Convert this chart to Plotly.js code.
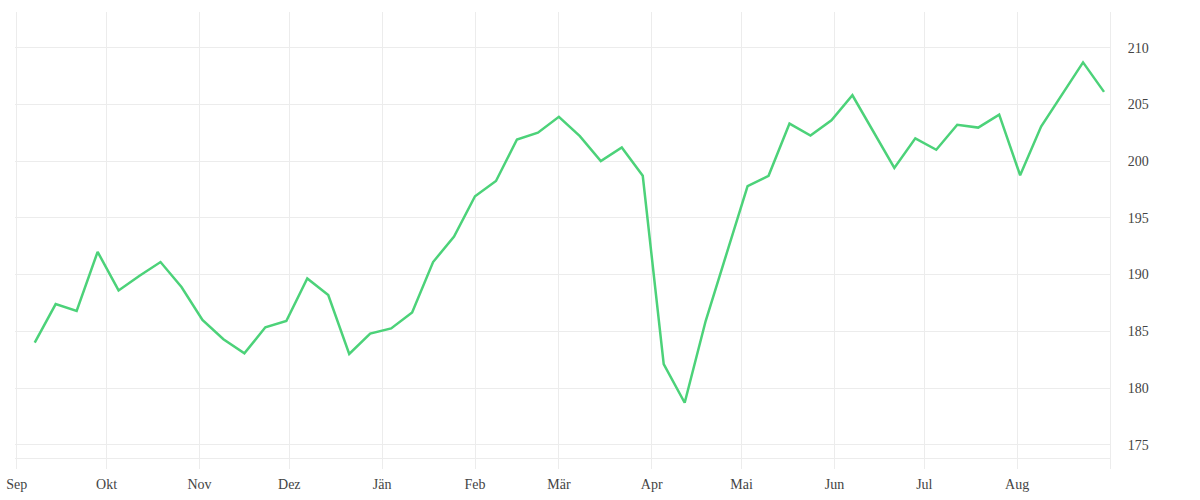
<!DOCTYPE html>
<html>
<head>
<meta charset="utf-8">
<script src="https://cdn.plot.ly/plotly-3.0.1.min.js"></script>
<style>
  html, body {margin:0; padding:0; background:#fff;}
  #chart {width:1200px; height:500px;}
</style>
</head>
<body>
<div id="chart"></div>
<script>
// weekly values, first point 2018-09-07
let start_day = '2018-09-07';
let kurs = [
    184.0, 187.4, 186.8, 192.0, 188.6, 189.9, 191.1, 188.9, 186.0, 184.3,
    183.05, 185.35, 185.9, 189.65, 188.2, 183.0, 184.8, 185.25, 186.65, 191.1,
    193.35, 196.9, 198.25, 201.9, 202.5, 203.9, 202.2, 200.0, 201.2, 198.7,
    182.1, 178.7, 185.9, 191.8, 197.8, 198.7, 203.3, 202.25, 203.6, 205.8,
    202.6, 199.4, 202.0, 201.0, 203.2, 202.95, 204.1, 198.75, 203.05, 205.9,
    208.7, 206.1
];
// month ticks (last one = next september, no label)
let monat_vals = [
    '2018-09-01','2018-10-01','2018-11-01','2018-12-01','2019-01-01','2019-02-01',
    '2019-03-01','2019-04-01','2019-05-01','2019-06-01','2019-07-01','2019-08-01','2019-09-01'
];
let monat_text = ['Sep','Okt','Nov','Dez','Jän','Feb','Mär','Apr','Mai','Jun','Jul','Aug',''];
let y_ticks = [175, 180, 185, 190, 195, 200, 205, 210];

function weekly_dates(first, n){
    let out = [];
    let d0 = new Date(first + 'T00:00:00Z');
    for(let i=0; i<n; i++){
        let d = new Date(d0.getTime() + i*7*86400000);
        out.push(d.toISOString().slice(0,10));
    }
    return out;
}

function draw_chart(container){
    let grid_col = '#ececec';
    let traces = [{
        x: weekly_dates(start_day, kurs.length),
        y: kurs,
        type: 'scatter',
        mode: 'lines',
        line: {color:'#4cd279', width:2.5},
        hoverinfo: 'x+y'
    }];

    let layout = {
        width: 1200,
        height: 500,
        showlegend: false,
        paper_bgcolor: '#fff',
        plot_bgcolor: '#fff',
        font: {family:'"Liberation Serif", serif', size:14, color:'#444'},
        margin: {l:15, r:90, t:12, b:42, pad:0},
        xaxis: {
            type: 'date',
            range: ['2018-08-31 10:00', '2019-09-01'],
            tickmode: 'array',
            tickvals: monat_vals,
            ticktext: monat_text,
            showgrid: true,
            gridcolor: grid_col,
            ticks: 'outside',
            ticklen: 10,
            tickcolor: grid_col,
            ticklabelstandoff: 3,
            showline: true,
            linecolor: grid_col,
            zeroline: false
        },
        yaxis: {
            side: 'right',
            range: [173.83, 213.14],
            tickmode: 'array',
            tickvals: y_ticks,
            showgrid: true,
            gridcolor: grid_col,
            showline: true,
            linecolor: grid_col,
            ticks: '',
            ticklabelstandoff: 14,
            zeroline: false
        }
    };

    Plotly.newPlot(container, traces, layout, {displayModeBar:false, responsive:false});
}

draw_chart('chart');
</script>
</body>
</html>
